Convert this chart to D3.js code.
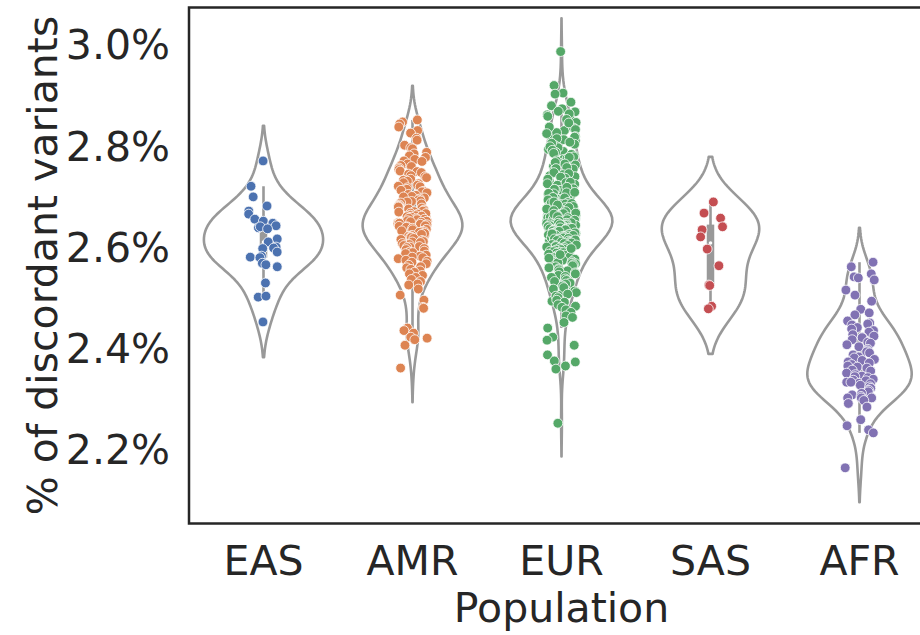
<!DOCTYPE html>
<html>
<head>
<meta charset="utf-8">
<script src="https://cdnjs.cloudflare.com/ajax/libs/d3/7.8.5/d3.min.js"></script>
<style>
  body { margin: 0; background: #fff; }
  text { font-family: "DejaVu Sans", sans-serif; fill: #262626; }
</style>
</head>
<body>
<div id="chart"></div>
<script>
const populations = ["EAS", "AMR", "EUR", "SAS", "AFR"];
const colors = ["#4c72b0", "#dd8452", "#55a868", "#c44e52", "#8172b3"];
const yTicks = [2.2, 2.4, 2.6, 2.8, 3.0];
const yDomain = [2.055, 3.074];

// % discordant variants per sample
const easValues = [2.771, 2.721, 2.700, 2.682, 2.672, 2.666, 2.656, 2.652, 2.648, 2.643,
  2.639, 2.641, 2.637, 2.617, 2.611, 2.601, 2.599, 2.598, 2.591, 2.583,
  2.581, 2.580, 2.569, 2.566, 2.562, 2.530, 2.502, 2.504, 2.453];

const amrValues = [2.852, 2.848, 2.844, 2.838, 2.831, 2.826, 2.816, 2.812,
  2.802, 2.797, 2.795, 2.788, 2.785, 2.781, 2.778, 2.774, 2.771, 2.770,
  2.765, 2.762, 2.760, 2.757, 2.754, 2.751, 2.750, 2.748, 2.745, 2.742, 2.740,
  2.738, 2.735, 2.733, 2.731, 2.728, 2.726, 2.723, 2.721, 2.720,
  2.718, 2.715, 2.713, 2.711, 2.710, 2.708, 2.705, 2.703, 2.701, 2.700,
  2.698, 2.696, 2.694, 2.692, 2.691, 2.690, 2.688, 2.686, 2.684, 2.682, 2.681, 2.680,
  2.678, 2.676, 2.674, 2.672, 2.671, 2.670, 2.668, 2.666, 2.664, 2.663, 2.662, 2.661, 2.660,
  2.667, 2.662, 2.657, 2.652, 2.649, 2.647, 2.644, 2.639, 2.637, 2.634, 2.629, 2.627, 2.625, 2.617, 2.615,
  2.658, 2.656, 2.655, 2.653, 2.652, 2.651, 2.650, 2.648, 2.646, 2.645, 2.643, 2.642, 2.641, 2.640,
  2.638, 2.636, 2.635, 2.633, 2.632, 2.631, 2.630, 2.628, 2.626, 2.624, 2.622, 2.621, 2.620,
  2.618, 2.616, 2.614, 2.612, 2.611, 2.610, 2.608, 2.606, 2.604, 2.602, 2.601, 2.600,
  2.598, 2.596, 2.593, 2.591, 2.590, 2.588, 2.585, 2.583, 2.581, 2.580,
  2.578, 2.575, 2.573, 2.571, 2.568, 2.565, 2.562, 2.560, 2.557, 2.554, 2.551,
  2.548, 2.545, 2.541, 2.537, 2.533, 2.528,
  2.526, 2.518, 2.506, 2.496, 2.482, 2.480, 2.441, 2.436, 2.431, 2.423, 2.421, 2.418, 2.407, 2.362];

const eurValues = [2.987, 2.920, 2.905, 2.903, 2.887, 2.880,
  2.874, 2.862, 2.868, 2.851, 2.857, 2.842, 2.847, 2.831, 2.836, 2.822, 2.827,
  2.869, 2.864, 2.859, 2.853, 2.846, 2.838, 2.833, 2.825, 2.819, 2.813,
  2.811, 2.815, 2.818, 2.801, 2.804, 2.808, 2.790, 2.794, 2.797, 2.781, 2.784, 2.788,
  2.806, 2.799, 2.792, 2.786, 2.779, 2.774, 2.767, 2.761, 2.749, 2.736,
  2.771, 2.773, 2.776, 2.778, 2.760, 2.763, 2.765, 2.768,
  2.751, 2.753, 2.755, 2.756, 2.758, 2.740, 2.742, 2.744, 2.746, 2.748,
  2.731, 2.732, 2.734, 2.735, 2.737, 2.739, 2.720, 2.722, 2.723, 2.725, 2.726, 2.728, 2.729,
  2.710, 2.711, 2.713, 2.714, 2.715, 2.716, 2.718, 2.719,
  2.700, 2.701, 2.703, 2.704, 2.705, 2.706, 2.707, 2.708, 2.709,
  2.690, 2.691, 2.692, 2.693, 2.695, 2.696, 2.697, 2.698, 2.699, 2.694,
  2.680, 2.681, 2.683, 2.684, 2.685, 2.686, 2.687, 2.688, 2.689, 2.682, 2.686,
  2.670, 2.671, 2.672, 2.673, 2.674, 2.675, 2.676, 2.677, 2.678, 2.679, 2.672, 2.675, 2.678,
  2.660, 2.661, 2.662, 2.662, 2.663, 2.664, 2.665, 2.665, 2.666, 2.667, 2.668, 2.669, 2.661, 2.667,
  2.650, 2.651, 2.652, 2.653, 2.654, 2.655, 2.655, 2.656, 2.657, 2.657, 2.658, 2.659, 2.651, 2.653, 2.656,
  2.690, 2.687, 2.684, 2.681, 2.679, 2.676, 2.673, 2.671, 2.668, 2.667, 2.664, 2.663, 2.660, 2.659,
  2.657, 2.655, 2.654, 2.652, 2.650, 2.649, 2.647, 2.646, 2.644, 2.642, 2.640, 2.638, 2.636, 2.634,
  2.633, 2.631, 2.628, 2.626, 2.623, 2.620, 2.617, 2.614, 2.611, 2.666, 2.661, 2.653,
  2.649, 2.648, 2.647, 2.646, 2.645, 2.644, 2.643, 2.642, 2.641, 2.640, 2.648, 2.645, 2.643, 2.641,
  2.639, 2.638, 2.637, 2.636, 2.635, 2.634, 2.633, 2.632, 2.631, 2.630, 2.638, 2.635, 2.632,
  2.629, 2.628, 2.626, 2.625, 2.624, 2.623, 2.622, 2.621, 2.620, 2.627, 2.624,
  2.619, 2.618, 2.617, 2.616, 2.614, 2.613, 2.612, 2.611, 2.610, 2.615,
  2.609, 2.608, 2.606, 2.605, 2.604, 2.603, 2.602, 2.601, 2.600,
  2.599, 2.597, 2.596, 2.595, 2.593, 2.592, 2.591, 2.590,
  2.589, 2.587, 2.585, 2.584, 2.582, 2.581, 2.580,
  2.578, 2.577, 2.575, 2.573, 2.572, 2.570,
  2.598, 2.586, 2.579, 2.568, 2.557, 2.546, 2.536, 2.526, 2.516, 2.506, 2.494, 2.484,
  2.569, 2.566, 2.564, 2.562, 2.560, 2.558, 2.556, 2.554, 2.552, 2.550,
  2.548, 2.545, 2.543, 2.541, 2.538, 2.535, 2.533, 2.530,
  2.528, 2.524, 2.521, 2.518, 2.514, 2.511, 2.508, 2.504, 2.501,
  2.496, 2.492, 2.487, 2.482, 2.477, 2.472,
  2.465, 2.462, 2.452, 2.441, 2.423, 2.417, 2.407, 2.388, 2.376, 2.374, 2.366, 2.360, 2.253];

const sasValues = [2.690, 2.668, 2.658, 2.641, 2.635, 2.621, 2.597, 2.564, 2.526, 2.525, 2.484, 2.479];

const afrValues = [2.571, 2.562, 2.542, 2.540, 2.548, 2.536, 2.516, 2.506, 2.494, 2.478, 2.471, 2.467,
  2.455, 2.451, 2.449, 2.447, 2.442, 2.439, 2.436, 2.433, 2.428, 2.423, 2.422, 2.425, 2.418,
  2.413, 2.411, 2.408, 2.404, 2.399, 2.396, 2.394, 2.392, 2.388, 2.384, 2.382, 2.379, 2.377,
  2.374, 2.372, 2.369, 2.366, 2.364, 2.362, 2.358, 2.356, 2.352, 2.349, 2.346, 2.343, 2.340,
  2.345, 2.338, 2.332, 2.326,
  2.337, 2.334, 2.334, 2.331, 2.328, 2.325, 2.322, 2.318, 2.315, 2.312, 2.309, 2.306, 2.303,
  2.303, 2.303, 2.298, 2.292, 2.285, 2.260, 2.248, 2.240, 2.234, 2.165];

const groups = [easValues, amrValues, eurValues, sasValues, afrValues];

const W = 920, H = 635;
const margin = { top: 7.5, left: 189 },
      plotW = 745, plotH = 516;

const svg = d3.select("#chart").append("svg")
    .attr("width", W)
    .attr("height", H);

const x = d3.scaleBand()
    .domain(populations)
    .range([margin.left, margin.left + plotW])
    .padding(0);

const y = d3.scaleLinear()
    .domain(yDomain)
    .range([margin.top + plotH, margin.top]);

// gaussian kde, scott bandwidth, cut = 2 (like seaborn)
function kde(values) {
  const n = values.length;
  const bw = Math.pow(n, -0.2) * d3.deviation(values);
  const lo = d3.min(values) - 2 * bw, hi = d3.max(values) + 2 * bw;
  const grid = d3.range(100).map(i => lo + (hi - lo) * i / 99);
  const c = 1 / (n * bw * Math.sqrt(2 * Math.PI));
  return grid.map(v => ({
    v: v,
    d: c * d3.sum(values, s => Math.exp(-0.5 * ((v - s) / bw) ** 2))
  }));
}

const densities = groups.map(kde);
const maxDensity = d3.max(densities, ds => d3.max(ds, p => p.d));
const halfW = x.bandwidth() * 0.4;
const gray = "#999999";

const violin = svg.append("g");
densities.forEach((ds, i) => {
  const cx = x(populations[i]) + x.bandwidth() / 2;
  const area = d3.area()
    .y(p => y(p.v))
    .x0(p => cx - halfW * p.d / maxDensity)
    .x1(p => cx + halfW * p.d / maxDensity);
  violin.append("path")
    .datum(ds)
    .attr("d", area)
    .attr("fill", "#fff")
    .attr("stroke", gray)
    .attr("stroke-width", 2.6)
    .attr("stroke-linejoin", "round");

  // inner box
  const vals = groups[i].slice().sort(d3.ascending);
  const q1 = d3.quantile(vals, 0.25), q2 = d3.quantile(vals, 0.5), q3 = d3.quantile(vals, 0.75);
  const lim = 1.5 * (q3 - q1);
  const h1 = d3.min(vals.filter(v => v >= q1 - lim));
  const h2 = d3.max(vals.filter(v => v <= q3 + lim));
  violin.append("line")
    .attr("x1", cx).attr("x2", cx)
    .attr("y1", y(h1)).attr("y2", y(h2))
    .attr("stroke", gray).attr("stroke-width", 2.6);
  violin.append("line")
    .attr("x1", cx).attr("x2", cx)
    .attr("y1", y(q1)).attr("y2", y(q3))
    .attr("stroke", gray).attr("stroke-width", 7.5);
  violin.append("circle")
    .attr("cx", cx).attr("cy", y(q2))
    .attr("r", 1.8)
    .attr("fill", "#fff");
});

// strip points with a seeded jitter of +-0.1 category width
const jitter = d3.randomUniform.source(d3.randomLcg(0.37))(-0.1, 0.1);
const points = [];
groups.forEach((vals, i) => vals.forEach(v => points.push({ pop: populations[i], i: i, v: v, j: jitter() })));

svg.append("g")
  .selectAll("circle")
  .data(points)
  .join("circle")
    .attr("cx", d => x(d.pop) + x.bandwidth() / 2 + d.j * x.bandwidth())
    .attr("cy", d => y(d.v))
    .attr("r", 4.9)
    .attr("fill", d => colors[d.i])
    .attr("stroke", "#fff")
    .attr("stroke-width", 0.8);

// spines
svg.append("rect")
  .attr("x", margin.left)
  .attr("y", margin.top)
  .attr("width", plotW)
  .attr("height", plotH)
  .attr("fill", "none")
  .attr("stroke", "#262626")
  .attr("stroke-width", 2.5);

// y tick labels
svg.append("g")
  .selectAll("text")
  .data(yTicks)
  .join("text")
    .attr("x", 170)
    .attr("y", d => y(d))
    .attr("dy", "0.35em")
    .attr("text-anchor", "end")
    .style("font-size", "41px")
    .text(d => d.toFixed(1) + "%");

// x tick labels
svg.append("g")
  .selectAll("text")
  .data(populations)
  .join("text")
    .attr("x", d => x(d) + x.bandwidth() / 2)
    .attr("y", 575)
    .attr("text-anchor", "middle")
    .style("font-size", "41px")
    .text(d => d);

svg.append("text")
  .attr("x", margin.left + plotW / 2)
  .attr("y", 622)
  .attr("text-anchor", "middle")
  .style("font-size", "41px")
  .text("Population");

svg.append("text")
  .attr("transform", `translate(57,${margin.top + plotH / 2}) rotate(-90)`)
  .attr("text-anchor", "middle")
  .style("font-size", "41px")
  .text("% of discordant variants");
</script>
</body>
</html>
